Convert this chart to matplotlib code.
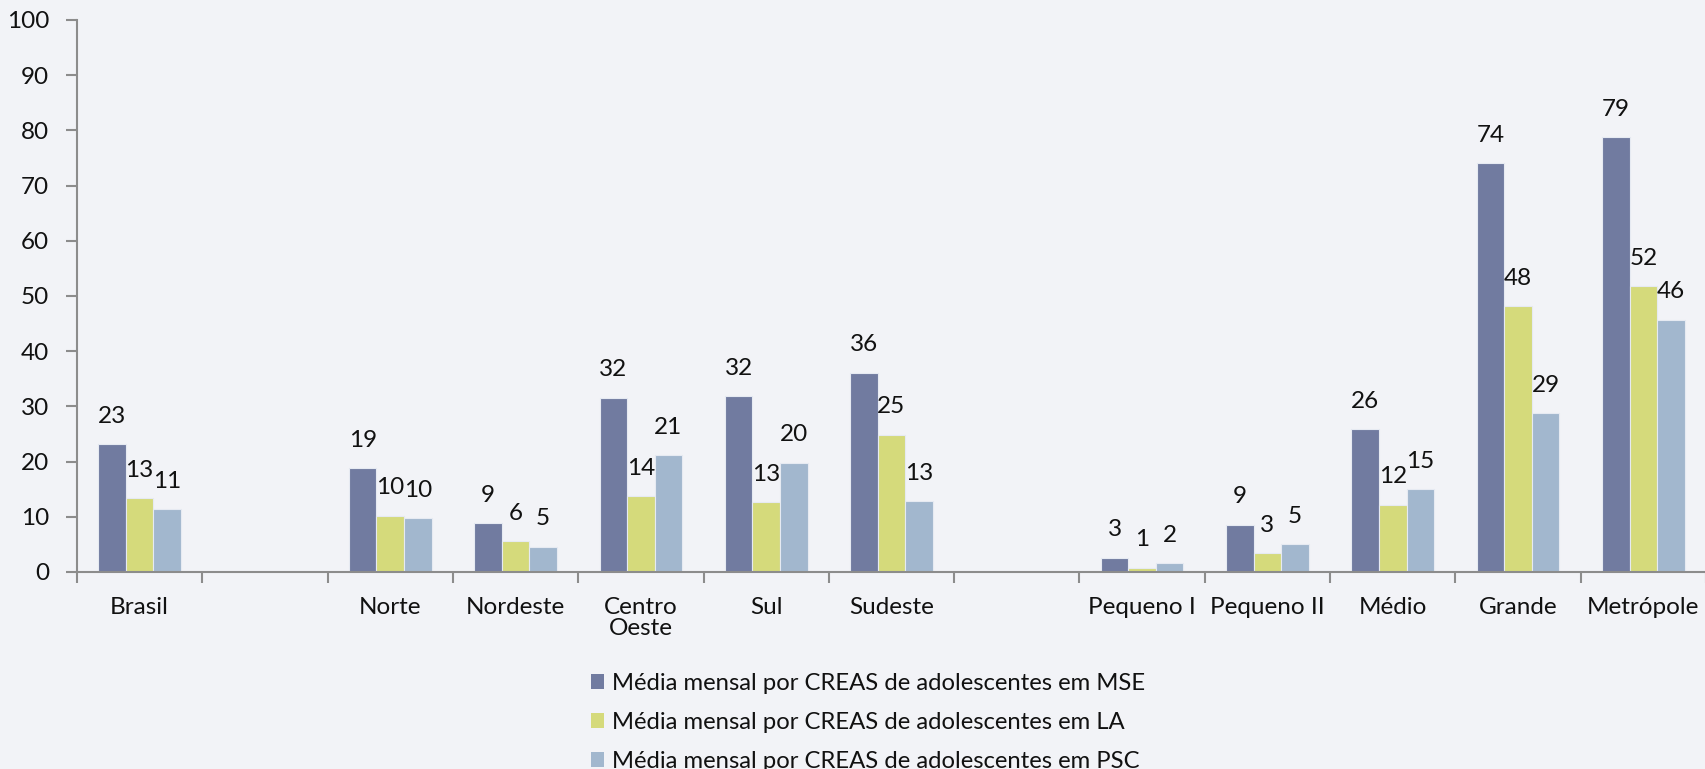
import numpy as np
import matplotlib.pyplot as plt
from matplotlib.patches import Patch

# categories (empty strings are the spacer slots between groups)
categorias = ['Brasil', '', 'Norte', 'Nordeste', 'Centro\nOeste', 'Sul', 'Sudeste', '',
              'Pequeno I', 'Pequeno II', 'Médio', 'Grande', 'Metrópole']

mse = [23.2, None, 18.8, 8.9, 31.6, 31.8, 36.1, None, 2.6, 8.6, 25.9, 74.1, 78.8]
la = [13.4, None, 10.2, 5.6, 13.7, 12.7, 24.9, None, 0.8, 3.4, 12.2, 48.1, 51.8]
psc = [11.4, None, 9.7, 4.6, 21.2, 19.8, 12.8, None, 1.6, 5.0, 15.0, 28.8, 45.7]

series = ['Média mensal por CREAS de adolescentes em MSE',
          'Média mensal por CREAS de adolescentes em LA',
          'Média mensal por CREAS de adolescentes em PSC']
cores = ['#717BA0', '#D5DA7B', '#A2B7CE']

plt.rcParams['font.family'] = ['Lato', 'DejaVu Sans']
fs = 17.5

fig = plt.figure(figsize=(17.06, 7.69), dpi=100)
fig.patch.set_facecolor('#F2F3F7')
ax = fig.add_axes([77 / 1706, 197 / 769, 1629 / 1706, 552 / 769])
ax.set_facecolor('none')

x = np.arange(len(categorias))
w = 0.22
for i, (vals, cor) in enumerate(zip([mse, la, psc], cores)):
    idx = [k for k, v in enumerate(vals) if v is not None]
    hs = [vals[k] for k in idx]
    pos = x[idx] + (i - 1) * w
    bars = ax.bar(pos, hs, width=w, color=cor, edgecolor='#E6EAF2', linewidth=0.8)
    for b, h in zip(bars, hs):
        ax.annotate(f'{round(h):d}', (b.get_x() + b.get_width() / 2, h),
                    xytext=(0, 12.5), textcoords='offset points',
                    ha='center', va='bottom', fontsize=fs, color='#111111')

ax.set_xlim(-0.5, 12.44)
ax.set_ylim(0, 100)
ax.set_yticks(range(0, 101, 10))
ax.set_xticks(x)
ax.set_xticklabels(categorias, linespacing=1.0)
ax.set_xticks(np.arange(-0.5, 13, 1), minor=True)

for s in ['top', 'right']:
    ax.spines[s].set_visible(False)
for s in ['left', 'bottom']:
    ax.spines[s].set_color('#8C8C8C')
    ax.spines[s].set_linewidth(1.5)

ax.tick_params(axis='x', which='major', length=0, pad=18, labelsize=fs, labelcolor='#111111')
ax.tick_params(axis='x', which='minor', length=8, width=1.5, color='#8C8C8C')
ax.tick_params(axis='y', length=8, width=1.5, color='#8C8C8C', pad=12, labelsize=fs,
               labelcolor='#111111')
for t in ax.get_xticklabels():
    t.set_va('top')

handles = [Patch(facecolor=c, edgecolor='none') for c in cores]
fig.legend(handles, series, loc='upper left', bbox_to_anchor=(581 / 1706, 1 - 663 / 769),
           frameon=False, fontsize=17.2, handlelength=0.58, handleheight=0.58,
           handletextpad=0.32, labelspacing=0.76, borderaxespad=0, labelcolor='#111111')

plt.savefig('out.png', dpi=100, facecolor=fig.get_facecolor())
